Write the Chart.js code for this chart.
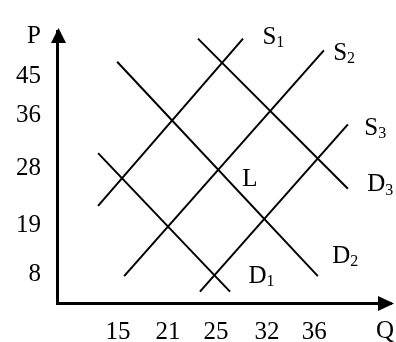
<!DOCTYPE html>
<html>
<head>
<meta charset="utf-8">
<script src="https://cdn.jsdelivr.net/npm/chart.js@4.4.0/dist/chart.umd.min.js"></script>
<style>
  html, body { margin: 0; padding: 0; background: #fff; }
</style>
</head>
<body>
<canvas id="chart" width="396" height="342"></canvas>
<script>
// axis ticks (diagram is schematic, so ticks sit at their own spots on a 0-100 scale)
const qLabels = ["15", "21", "25", "32", "36"];
const qTickAt = [18.3, 33.2, 47.6, 62.9, 77.0];
const pLabels = ["8", "19", "28", "36", "45"];
const pTickAt = [10.6, 28.6, 49.5, 68.9, 83.4];

// curves, start and end point in the same 0-100 units
const s1 = [{ x: 12.3, y: 35.7 }, { x: 55.7, y: 97.2 }];
const s2 = [{ x: 20.1, y: 9.9 }, { x: 79.9, y: 92.9 }];
const s3 = [{ x: 42.8, y: 4.2 }, { x: 87.1, y: 65.7 }];
const d1 = [{ x: 12.3, y: 55.1 }, { x: 51.8, y: 4.2 }];
const d2 = [{ x: 18.0, y: 88.7 }, { x: 78.1, y: 9.9 }];
const d3 = [{ x: 42.2, y: 97.2 }, { x: 87.1, y: 42.0 }];

const curveNames = ["S1", "S2", "S3", "D1", "D2", "D3"];
const curves = [s1, s2, s3, d1, d2, d3];

// where the curve names and the L point are written
const textSpots = [
    { main: "S", sub: "1", x: 61.5, y: 97.7 },
    { main: "S", sub: "2", x: 82.7, y: 91.9 },
    { main: "S", sub: "3", x: 92.0, y: 64.3 },
    { main: "D", sub: "1", x: 57.3, y: 9.9 },
    { main: "D", sub: "2", x: 82.4, y: 17.3 },
    { main: "D", sub: "3", x: 92.9, y: 43.5 },
    { main: "L", sub: "", x: 55.5, y: 45.6 }
];

const SERIF = "'Liberation Serif', 'Times New Roman', serif";

const diagramMarks = {
    id: "diagramMarks",
    afterDraw(chart) {
        const { ctx, chartArea: a, scales } = chart;
        ctx.save();
        ctx.fillStyle = "#000";
        ctx.fillRect(a.left, a.bottom - 1, 3, 3);
        // arrow heads
        ctx.beginPath();
        ctx.moveTo(a.left + 1.5, a.top - 3);
        ctx.lineTo(a.left - 6, a.top + 12);
        ctx.lineTo(a.left + 9, a.top + 12);
        ctx.closePath();
        ctx.fill();
        ctx.beginPath();
        ctx.moveTo(a.right + 3, a.bottom + 0.5);
        ctx.lineTo(a.right - 13, a.bottom - 7);
        ctx.lineTo(a.right - 13, a.bottom + 8);
        ctx.closePath();
        ctx.fill();

        ctx.textBaseline = "middle";
        ctx.textAlign = "center";
        ctx.font = "25px " + SERIF;
        ctx.fillText("P", a.left - 23, a.top + 5);
        ctx.fillText("Q", a.right - 6, a.bottom + 28);

        ctx.textAlign = "left";
        textSpots.forEach(t => {
            const px = scales.x.getPixelForValue(t.x);
            const py = scales.y.getPixelForValue(t.y);
            ctx.font = "25px " + SERIF;
            ctx.fillText(t.main, px, py);
            if (t.sub) {
                const w = ctx.measureText(t.main).width;
                ctx.font = "16px " + SERIF;
                ctx.fillText(t.sub, px + w, py + 6);
            }
        });
        ctx.restore();
    }
};

Chart.defaults.font.family = SERIF;
Chart.defaults.font.size = 25;
Chart.defaults.color = "#000";

new Chart(document.getElementById("chart"), {
    type: "scatter",
    data: {
        datasets: curves.map((pts, i) => ({
            label: curveNames[i],
            data: pts,
            showLine: true,
            borderColor: "#000",
            borderWidth: 2,
            pointRadius: 0,
            fill: false,
            tension: 0
        }))
    },
    options: {
        responsive: false,
        animation: false,
        layout: { padding: { top: 20, right: 5, left: 0, bottom: 0 } },
        plugins: {
            legend: { display: false },
            tooltip: { enabled: false }
        },
        scales: {
            x: {
                type: "linear",
                min: 0,
                max: 100,
                grid: { display: false, drawTicks: false },
                border: { display: true, color: "#000", width: 3 },
                afterBuildTicks: s => { s.ticks = qTickAt.map(v => ({ value: v })); },
                afterFit: s => { s.height = 39; },
                ticks: {
                    autoSkip: false,
                    maxRotation: 0,
                    padding: 14,
                    callback: (v, i) => qLabels[i]
                }
            },
            y: {
                type: "linear",
                min: 0,
                max: 100,
                grid: { display: false, drawTicks: false },
                border: { display: true, color: "#000", width: 3 },
                afterBuildTicks: s => { s.ticks = pTickAt.map(v => ({ value: v })); },
                afterFit: s => { s.width = 57; },
                ticks: {
                    autoSkip: false,
                    padding: 16,
                    callback: (v, i) => pLabels[i]
                }
            }
        }
    },
    plugins: [diagramMarks]
});
</script>
</body>
</html>
